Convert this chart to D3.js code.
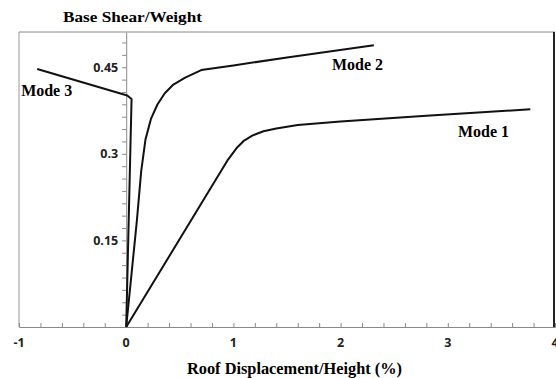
<!DOCTYPE html>
<html>
<head>
<meta charset="utf-8">
<script src="https://cdn.jsdelivr.net/npm/d3@7"></script>
<style>
  body { margin: 0; background: #fff; }
  .ttl { font-family: "Liberation Serif", "Times New Roman", serif; font-weight: bold; }
  .tick-lbl { font-family: "Open Sans", "Liberation Sans", Arial, sans-serif; font-weight: bold; font-size: 12.5px; fill: #222; }
</style>
</head>
<body>
<script>
// Pushover curves: base shear / weight vs roof drift (%)
const mode1 = [[0, 0], [0.95, 0.29], [1.03, 0.31], [1.1, 0.323], [1.18, 0.332], [1.28, 0.339], [1.4, 0.344], [1.6, 0.35], [2.0, 0.356], [2.8, 0.366], [3.77, 0.377]];
const mode2 = [[0, 0], [0.1, 0.185], [0.14, 0.27], [0.18, 0.325], [0.23, 0.36], [0.29, 0.385], [0.36, 0.405], [0.44, 0.42], [0.55, 0.432], [0.7, 0.445], [1.0, 0.453], [1.5, 0.467], [2.31, 0.488]];
const mode3 = [[0, 0], [0.05, 0.395], [0.01, 0.401], [-0.83, 0.447]];

const curves = [
  { name: "Mode 1", pts: mode1, lx: 3.095, ly: 0.329 },
  { name: "Mode 2", pts: mode2, lx: 1.92, ly: 0.445 },
  { name: "Mode 3", pts: mode3, lx: -0.98, ly: 0.400 }
];

const xTicks = [-1, 0, 1, 2, 3, 4];
const yTicks = [0.15, 0.3, 0.45];

const W = 556, H = 378;
const svg = d3.select("body").append("svg")
  .attr("width", W)
  .attr("height", H);

const x = d3.scaleLinear().domain([-1, 4]).range([19, 555]);
const y = d3.scaleLinear().domain([0, 0.511]).range([327, 32]);

// frame
svg.append("line").attr("x1", 19).attr("x2", 555).attr("y1", 32).attr("y2", 32).attr("stroke", "#888");
svg.append("line").attr("x1", 19).attr("x2", 19).attr("y1", 32).attr("y2", 327).attr("stroke", "#999");
svg.append("line").attr("x1", 554).attr("x2", 554).attr("y1", 32).attr("y2", 327).attr("stroke", "#222").attr("stroke-width", 2);

// x axis, minor ticks pointing up
const xg = svg.append("g").attr("transform", `translate(0,${y(0)})`)
  .call(d3.axisTop(x).tickValues(d3.range(-1, 4.01, 0.2)).tickSize(4).tickFormat(""));
xg.select(".domain").attr("stroke", "#888");
xg.selectAll(".tick line").attr("stroke", "#888");

svg.selectAll(".xl").data(xTicks).enter().append("text")
  .attr("class", "tick-lbl")
  .attr("x", d => x(d))
  .attr("y", y(0) + 20)
  .attr("text-anchor", "middle")
  .text(d => d);

// y axis at x = 0
const yg = svg.append("g").attr("transform", `translate(${x(0)},0)`)
  .call(d3.axisLeft(y).tickValues(d3.range(1, 24).map(i => i * 0.15 / 7)).tickSize(4).tickFormat("").tickSizeOuter(0));
yg.select(".domain").attr("stroke", "#888");
yg.selectAll(".tick line").attr("stroke", "#888");

svg.selectAll(".yl").data(yTicks).enter().append("text")
  .attr("class", "tick-lbl")
  .attr("x", x(0) - 8)
  .attr("y", d => y(d))
  .attr("dy", "0.35em")
  .attr("text-anchor", "end")
  .text(d => d);

// curves
const line = d3.line().x(d => x(d[0])).y(d => y(d[1]));
svg.selectAll(".curve").data(curves).enter().append("path")
  .attr("d", d => line(d.pts))
  .attr("fill", "none")
  .attr("stroke", "#111")
  .attr("stroke-width", 2)
  .attr("stroke-linejoin", "round");

svg.selectAll(".mlab").data(curves).enter().append("text")
  .attr("class", "ttl")
  .attr("font-size", "16px")
  .attr("x", d => x(d.lx))
  .attr("y", d => y(d.ly))
  .attr("textLength", 51)
  .attr("lengthAdjust", "spacingAndGlyphs")
  .text(d => d.name);

// titles
svg.append("text").attr("class", "ttl")
  .attr("font-size", "14.5px")
  .attr("x", 63).attr("y", 22)
  .attr("textLength", 139)
  .attr("lengthAdjust", "spacingAndGlyphs")
  .text("Base Shear/Weight");

svg.append("text").attr("class", "ttl")
  .attr("font-size", "16px")
  .attr("x", 187).attr("y", 374)
  .attr("textLength", 215)
  .attr("lengthAdjust", "spacingAndGlyphs")
  .text("Roof Displacement/Height (%)");
</script>
</body>
</html>
